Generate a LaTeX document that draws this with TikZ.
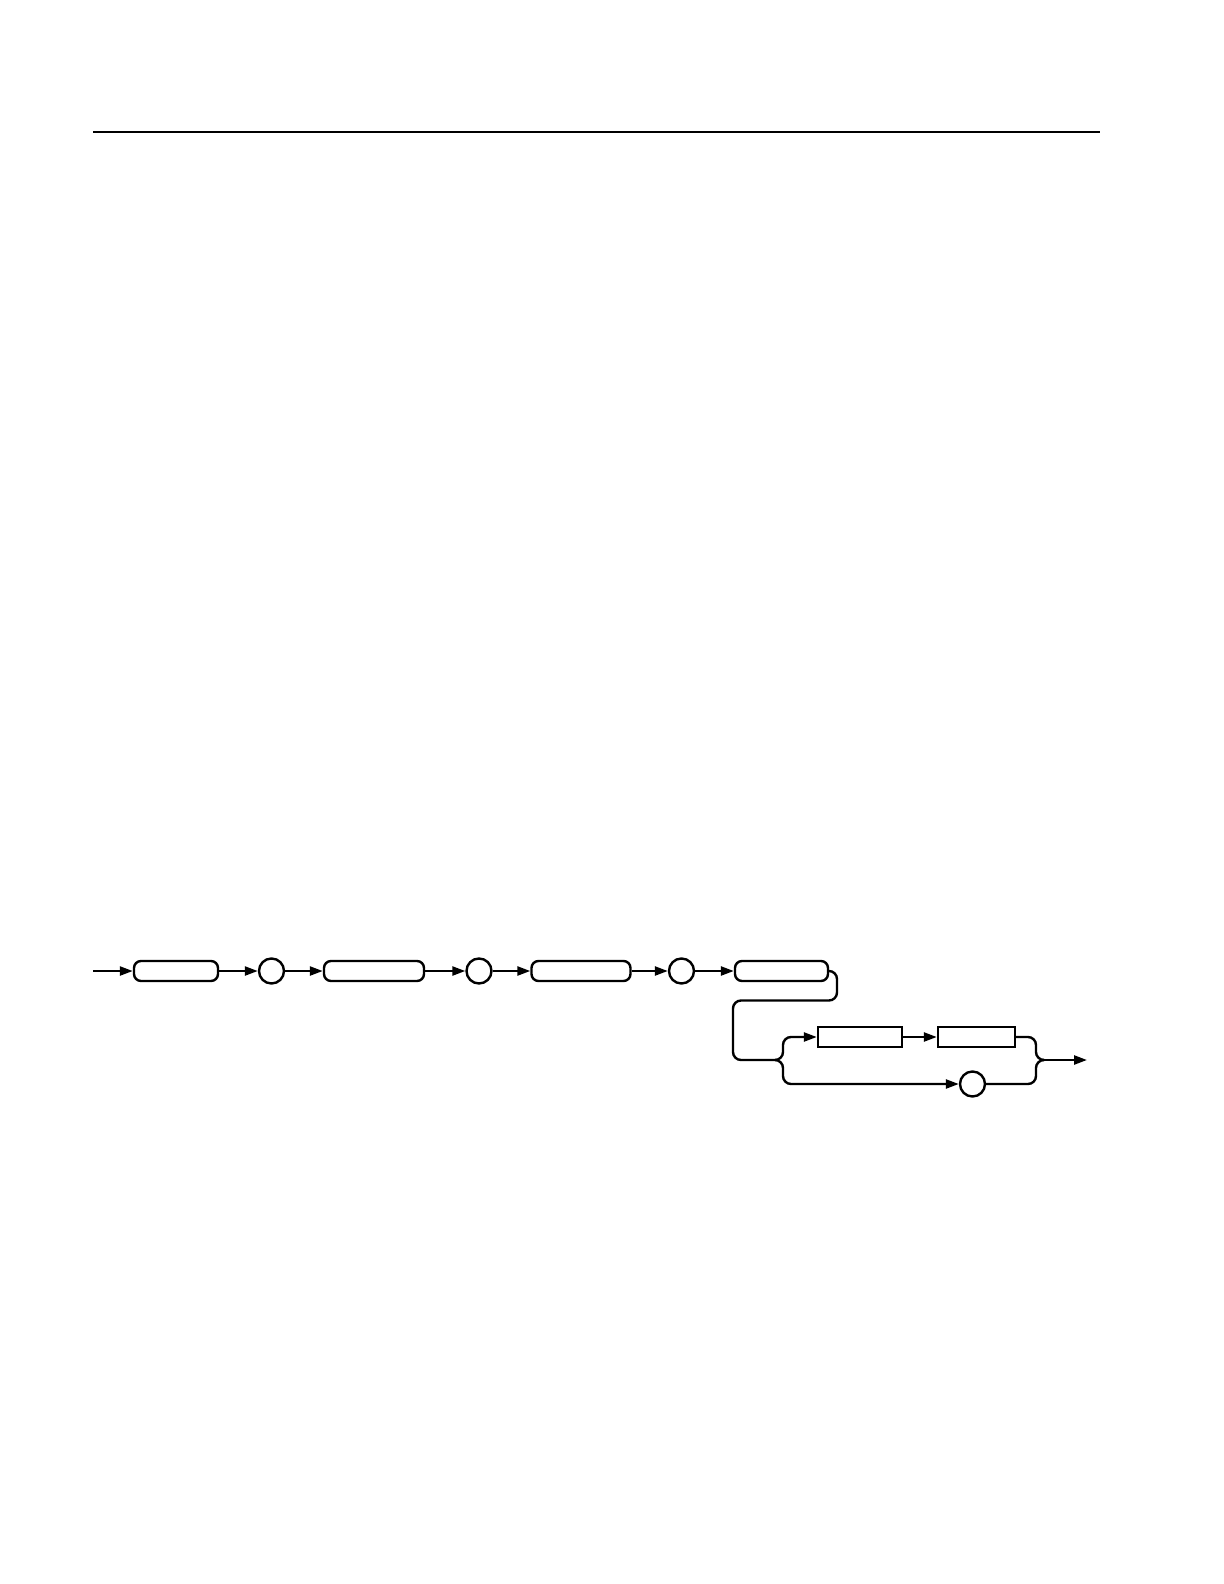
\documentclass[tikz,border=0pt]{standalone}
\usetikzlibrary{arrows.meta}
\begin{document}
\begin{tikzpicture}[
    x=0.5pt, y=-0.5pt,
    % Verbindungen mit Pfeilspitze
    conn/.style={line width=1.2pt, -{Triangle[length=6.5pt,width=4.5pt]}},
    % Verbindungen ohne Pfeilspitze
    plain/.style={line width=1.2pt},
    % abgerundete Kaesten
    rbox/.style={draw, line width=1.2pt, rounded corners=3.5pt, minimum height=10pt, inner sep=0pt},
    % eckige Kaesten
    sbox/.style={draw, line width=1.2pt, minimum height=10pt, inner sep=0pt},
    % Kreise
    dot/.style={draw, circle, line width=1.2pt, minimum size=12.5pt, inner sep=0pt}
]

% Seitenformat
\useasboundingbox (0,0) rectangle (1224,1584);
\draw[line width=0.75pt] (93,132) -- (1100,132);

% Zeilen-Parameter
\def\ya{971}
\def\yb{1037}
\def\yc{1084}
\def\yf{1060}

% --- OBERE ZEILE ---
\coordinate (in) at (93,\ya);
\node[rbox, minimum width=42pt] (b1) at (176,\ya) {};
\node[dot] (c1) at (271.5,\ya) {};
\node[rbox, minimum width=50pt] (b2) at (374,\ya) {};
\node[dot] (c2) at (479,\ya) {};
\node[rbox, minimum width=49.5pt] (b3) at (581,\ya) {};
\node[dot] (c3) at (681.5,\ya) {};
\node[rbox, minimum width=46.5pt] (b4) at (781.5,\ya) {};

\draw[conn] (in) -- (b1.west);
\draw[conn] (b1.east) -- (c1.west);
\draw[conn] (c1.east) -- (b2.west);
\draw[conn] (b2.east) -- (c2.west);
\draw[conn] (c2.east) -- (b3.west);
\draw[conn] (b3.east) -- (c3.west);
\draw[conn] (c3.east) -- (b4.west);

% --- RUECKFUEHRUNG ---
\coordinate (fork) at (775,\yf);
\draw[plain, rounded corners=4pt] (b4.east) -- (837,\ya) -- (837,1000.5) -- (733,1000.5) -- (733,\yf) -- (fork);

% --- VERZWEIGUNG ---
\node[sbox, minimum width=42pt] (b5) at (860,\yb) {};
\node[sbox, minimum width=38.5pt] (b6) at (976.5,\yb) {};
\node[dot] (c4) at (972.5,\yc) {};
\coordinate (join) at (1043,\yf);
\coordinate (out) at (1087,\yf);

\draw[conn, rounded corners=4pt] (fork) -- (783,\yf) -- (783,\yb) -- (b5.west);
\draw[conn] (b5.east) -- (b6.west);
\draw[conn, rounded corners=4pt] (fork) -- (783,\yf) -- (783,\yc) -- (c4.west);
\draw[plain, rounded corners=4pt] (b6.east) -- (1036,\yb) -- (1036,\yf) -- (join);
\draw[plain, rounded corners=4pt] (c4.east) -- (1036,\yc) -- (1036,\yf) -- (join);
\draw[conn] (join) -- (out);

\end{tikzpicture}
\end{document}
